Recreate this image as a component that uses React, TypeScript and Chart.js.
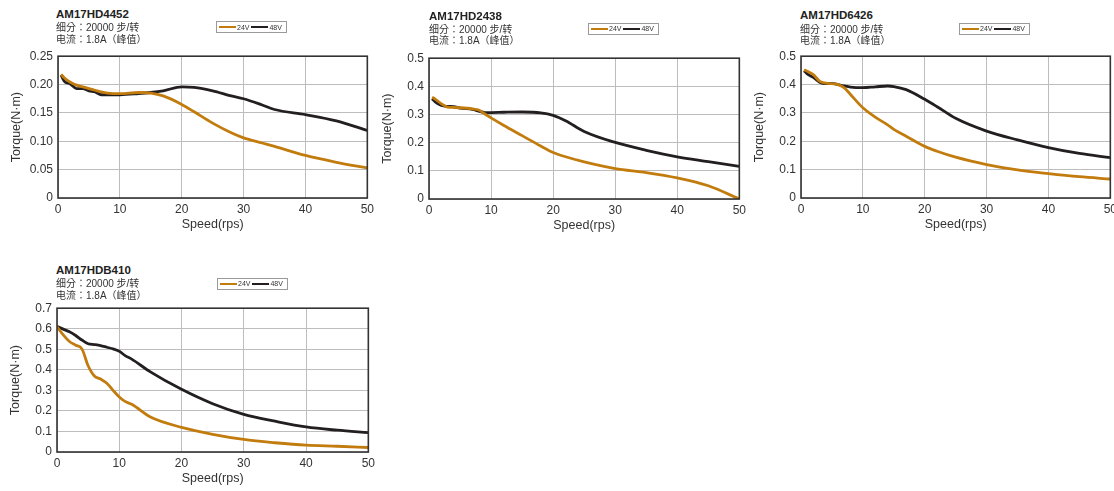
import React, { useEffect, useRef } from "react";
import { Chart, registerables } from "chart.js";

Chart.register(...registerables);

const FONT = "'Liberation Sans', Arial, 'Noto Sans CJK TC', sans-serif";
Chart.defaults.font.family = FONT;

const ORANGE = "#c27c0e";
const BLACK = "#231f20";

// ---- data ----
const speedA = [0.5, 1, 2, 3, 4, 5, 6, 7, 8, 10, 13, 15, 17, 20, 22, 25, 28, 30, 33, 35, 40, 45, 50];
const torqueA24 = [0.218, 0.212, 0.204, 0.199, 0.196, 0.193, 0.19, 0.187, 0.185, 0.184, 0.186, 0.185, 0.18, 0.165, 0.152, 0.132, 0.115, 0.106, 0.097, 0.091, 0.075, 0.063, 0.053];
const torqueA48 = [0.217, 0.206, 0.201, 0.193, 0.193, 0.189, 0.187, 0.182, 0.182, 0.182, 0.184, 0.186, 0.189, 0.196, 0.195, 0.189, 0.18, 0.175, 0.164, 0.156, 0.147, 0.136, 0.119];

const speedB = [0.5, 1, 2, 3, 4, 5, 7, 8, 9, 10, 12, 15, 18, 20, 22, 25, 30, 35, 40, 45, 50];
const torqueB24 = [0.362, 0.355, 0.338, 0.326, 0.325, 0.324, 0.32, 0.316, 0.302, 0.288, 0.262, 0.225, 0.188, 0.165, 0.15, 0.132, 0.108, 0.094, 0.075, 0.047, 0.0];
const torqueB48 = [0.356, 0.345, 0.332, 0.329, 0.328, 0.323, 0.318, 0.312, 0.307, 0.307, 0.308, 0.309, 0.306, 0.297, 0.278, 0.24, 0.201, 0.173, 0.15, 0.133, 0.116];

const speedC = [0.5, 1, 2, 3, 4, 5, 6, 7, 8, 10, 12, 14, 15, 17, 20, 22, 25, 30, 35, 40, 45, 50];
const torqueC24 = [0.452, 0.447, 0.435, 0.412, 0.405, 0.403, 0.4, 0.388, 0.365, 0.318, 0.285, 0.258, 0.242, 0.218, 0.182, 0.165, 0.144, 0.118, 0.099, 0.086, 0.075, 0.067];
const torqueC48 = [0.449, 0.438, 0.425, 0.408, 0.403, 0.404, 0.4, 0.395, 0.391, 0.389, 0.392, 0.395, 0.393, 0.382, 0.348, 0.322, 0.281, 0.236, 0.205, 0.178, 0.157, 0.142];

const speedD = [0, 1, 2, 3, 4, 5, 6, 7, 8, 9, 10, 11, 12, 15, 20, 25, 30, 35, 40, 45, 50];
const torqueD24 = [0.61, 0.57, 0.538, 0.52, 0.502, 0.42, 0.37, 0.355, 0.335, 0.3, 0.268, 0.245, 0.232, 0.17, 0.12, 0.086, 0.061, 0.045, 0.033, 0.028, 0.022];
const torqueD48 = [0.612, 0.598, 0.585, 0.567, 0.545, 0.527, 0.523, 0.518, 0.51, 0.502, 0.49, 0.468, 0.452, 0.39, 0.305, 0.235, 0.183, 0.15, 0.122, 0.106, 0.094];

const xTicks = [0, 10, 20, 30, 40, 50];
const seriesLabels = ["24V", "48V"];
const subtitle1 = "细分：20000 步/转";
const subtitle2 = "电流：1.8A（峰值）";

type PanelDef = {
  title: string;
  speeds: number[];
  v24: number[];
  v48: number[];
  yMax: number;
  yStep: number;
  dec: number;
  area: { l: number; t: number; r: number; b: number };
  text: { x: number; y0: number; y1: number; y2: number };
  legend: { x: number; y: number };
};

const panels: PanelDef[] = [
  {
    title: "AM17HD4452", speeds: speedA, v24: torqueA24, v48: torqueA48, yMax: 0.25, yStep: 0.05, dec: 2,
    area: { l: 58, t: 50, r: 370, b: 198 }, text: { x: 56, y0: 14, y1: 27, y2: 39 }, legend: { x: 216, y: 21 },
  },
  {
    title: "AM17HD2438", speeds: speedB, v24: torqueB24, v48: torqueB48, yMax: 0.5, yStep: 0.1, dec: 1,
    area: { l: 429, t: 52, r: 742, b: 199 }, text: { x: 429, y0: 15.5, y1: 29, y2: 40.5 }, legend: { x: 588, y: 22.5 },
  },
  {
    title: "AM17HD6426", speeds: speedC, v24: torqueC24, v48: torqueC48, yMax: 0.5, yStep: 0.1, dec: 1,
    area: { l: 801, t: 50, r: 1113, b: 198 }, text: { x: 800, y0: 15, y1: 29, y2: 40.5 }, legend: { x: 959, y: 22.5 },
  },
  {
    title: "AM17HDB410", speeds: speedD, v24: torqueD24, v48: torqueD48, yMax: 0.7, yStep: 0.1, dec: 1,
    area: { l: 57, t: 302, r: 371, b: 452 }, text: { x: 56, y0: 269.5, y1: 283, y2: 295 }, legend: { x: 217, y: 277.5 },
  },
];

const YW = 58;
const PT = 6;
const PR = 8;
const XH = 42;

const framePlugin = {
  id: "frame",
  afterDraw(chart: any) {
    const { ctx, chartArea } = chart;
    const { left, top, right, bottom } = chartArea;
    ctx.save();
    ctx.strokeStyle = "#333333";
    ctx.lineWidth = 1.6;
    ctx.strokeRect(left, top, right - left, bottom - top);
    ctx.restore();
  },
};

function Panel({ p }: { p: PanelDef }) {
  const ref = useRef<HTMLCanvasElement>(null);
  const left = p.area.l - YW;
  const top = p.area.t - PT;
  const width = p.area.r - p.area.l + YW + PR;
  const height = p.area.b - p.area.t + PT + XH;

  useEffect(() => {
    if (!ref.current) return;
    const tickFont = { size: 12, family: FONT };
    const titleFont = { size: 12.5, family: FONT };
    const chart = new Chart(ref.current, {
      type: "line",
      data: {
        datasets: [
          {
            label: seriesLabels[0],
            data: p.speeds.map((x, i) => ({ x, y: p.v24[i] })),
            borderColor: ORANGE,
            backgroundColor: ORANGE,
            borderWidth: 2.8,
            pointRadius: 0,
            cubicInterpolationMode: "monotone",
            fill: false,
          },
          {
            label: seriesLabels[1],
            data: p.speeds.map((x, i) => ({ x, y: p.v48[i] })),
            borderColor: BLACK,
            backgroundColor: BLACK,
            borderWidth: 2.8,
            pointRadius: 0,
            cubicInterpolationMode: "monotone",
            fill: false,
          },
        ],
      },
      options: {
        animation: false,
        responsive: false,
        maintainAspectRatio: false,
        layout: { padding: { top: PT, right: PR, left: 0, bottom: 0 } },
        plugins: { legend: { display: false }, tooltip: { enabled: false } },
        scales: {
          x: {
            type: "linear",
            min: 0,
            max: 50,
            afterBuildTicks: (s: any) => {
              s.ticks = xTicks.map((v) => ({ value: v }));
            },
            ticks: { padding: 4, font: tickFont, color: "#333", maxRotation: 0, autoSkip: false },
            grid: { color: "#bdbdbd", lineWidth: 1, drawTicks: false },
            border: { display: false },
            title: { display: true, text: "Speed(rps)", font: titleFont, color: "#333", padding: { top: 0, bottom: 8 } },
            afterFit: (s: any) => {
              s.height = XH;
            },
          },
          y: {
            type: "linear",
            min: 0,
            max: p.yMax,
            ticks: {
              stepSize: p.yStep,
              padding: 5,
              font: tickFont,
              color: "#333",
              callback: (v: any) => (Math.abs(Number(v)) < 1e-9 ? "0" : Number(v).toFixed(p.dec)),
            },
            grid: { color: "#bdbdbd", lineWidth: 1, drawTicks: false },
            border: { display: false },
            title: { display: true, text: "Torque(N·m)", font: titleFont, color: "#333", padding: { top: 9.5, bottom: 0 } },
            afterFit: (s: any) => {
              s.width = YW;
            },
          },
        },
      } as any,
      plugins: [framePlugin],
    });
    return () => chart.destroy();
  }, []);

  const legendItem = (label: string, color: string, ml: number) => (
    <span style={{ display: "inline-flex", alignItems: "center", marginLeft: ml }}>
      <span style={{ display: "inline-block", width: 17, height: 2, background: color }} />
      <span style={{ marginLeft: 1 }}>{label}</span>
    </span>
  );

  return (
    <>
      <canvas
        ref={ref}
        width={width}
        height={height}
        style={{ position: "absolute", left, top, width, height }}
      />
      <div
        style={{
          position: "absolute",
          left: p.text.x,
          top: p.text.y0 - 7,
          font: `bold 11.5px ${FONT}`,
          lineHeight: "14px",
          color: "#222",
          whiteSpace: "nowrap",
        }}
      >
        {p.title}
      </div>
      <div
        style={{
          position: "absolute",
          left: p.text.x,
          top: p.text.y1 - 6.5,
          font: `10px ${FONT}`,
          lineHeight: "13px",
          color: "#333",
          whiteSpace: "nowrap",
        }}
      >
        {subtitle1}
      </div>
      <div
        style={{
          position: "absolute",
          left: p.text.x,
          top: p.text.y2 - 6.5,
          font: `10px ${FONT}`,
          lineHeight: "13px",
          color: "#333",
          whiteSpace: "nowrap",
        }}
      >
        {subtitle2}
      </div>
      <div
        style={{
          position: "absolute",
          left: p.legend.x,
          top: p.legend.y,
          width: 71,
          height: 12,
          boxSizing: "border-box",
          border: "1px solid #9a9a9a",
          display: "flex",
          alignItems: "center",
          font: `7px ${FONT}`,
          color: "#333",
          whiteSpace: "nowrap",
          paddingLeft: 1,
        }}
      >
        {legendItem(seriesLabels[0], ORANGE, 1)}
        {legendItem(seriesLabels[1], BLACK, 2)}
      </div>
    </>
  );
}

export default function App() {
  return (
    <div
      style={{
        position: "fixed",
        left: 0,
        top: 0,
        width: 1114,
        height: 491,
        overflow: "hidden",
        background: "#fff",
      }}
    >
      {panels.map((p) => (
        <Panel key={p.title} p={p} />
      ))}
    </div>
  );
}
